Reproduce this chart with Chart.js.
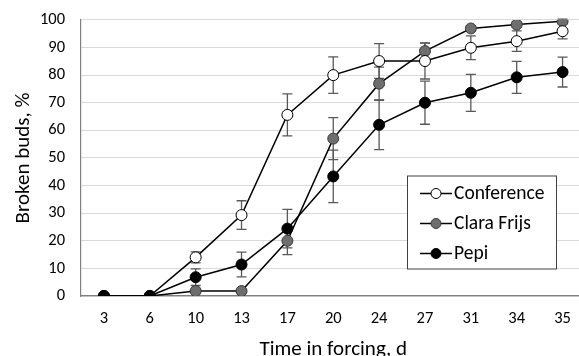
<!DOCTYPE html>
<html><head><meta charset="utf-8">
<script src="https://cdn.jsdelivr.net/npm/chart.js@4/dist/chart.umd.min.js"></script>
<style>
html,body{margin:0;padding:0;overflow:hidden;background:#fff;width:579px;height:356px}
#wrap{position:relative;width:592px;height:368px;margin-top:-6.5px}
</style>
</head><body><div id="wrap"><canvas id="c"></canvas></div>
<script>
const categories = ['3','6','10','13','17','20','24','27','31','34','35'];
const conference = [0,0,14,29.3,65.6,80,85.1,85.1,89.9,92.3,95.9];
const conferenceErr = [0,0,2,5.2,7.6,6.6,6.3,6.5,4.3,3.7,2.8];
const claraFrijs = [0,0,1.8,1.8,20,57,76.9,88.7,96.9,98.3,99.5];
const claraErr = [0,0,0.5,0.5,5,7.6,6,3,1,1,0.8];
const pepi = [0,0,6.8,11.4,24.4,43.3,62,70,73.6,79.2,81.1];
const pepiErr = [0,0,3,4.5,7,9.5,9,7.8,6.7,5.8,5.4];
const seriesNames = ['Conference','Clara Frijs','Pepi'];
const FONT = "Carlito, Lato, sans-serif";
const OFF = 6.5; // canvas is shifted up by this many px

const errorBars = {
  id:'errorBars',
  beforeDatasetsDraw(chart){
    const ctx = chart.ctx, y = chart.scales.y;
    ctx.save();
    ctx.strokeStyle = '#595959'; ctx.lineWidth = 1.3;
    chart.data.datasets.forEach((ds,di)=>{
      const meta = chart.getDatasetMeta(di);
      ds.errors.forEach((e,i)=>{
        if(!e) return;
        const x = meta.data[i].x;
        const t = y.getPixelForValue(ds.data[i]+e), b = y.getPixelForValue(ds.data[i]-e);
        ctx.beginPath();
        ctx.moveTo(x,t); ctx.lineTo(x,b);
        ctx.moveTo(x-5,t); ctx.lineTo(x+5,t);
        ctx.moveTo(x-5,b); ctx.lineTo(x+5,b);
        ctx.stroke();
      });
    });
    ctx.restore();
  }
};

const boxLegend = {
  id:'boxLegend',
  afterDraw(chart){
    const ctx = chart.ctx;
    const L=407.5, T=175.5+OFF, W=149, H=93;
    ctx.save();
    ctx.fillStyle='#fff'; ctx.fillRect(L,T,W,H);
    ctx.strokeStyle='#404040'; ctx.lineWidth=1; ctx.strokeRect(L,T,W,H);
    ctx.font = "19.5px " + FONT; ctx.textBaseline='middle'; ctx.fillStyle='#000';
    chart.data.datasets.forEach((ds,i)=>{
      const yy = 193 + OFF + i*30;
      ctx.strokeStyle='#000'; ctx.lineWidth=1.5;
      ctx.beginPath(); ctx.moveTo(420,yy); ctx.lineTo(452,yy); ctx.stroke();
      ctx.beginPath(); ctx.arc(436,yy,5,0,Math.PI*2);
      ctx.fillStyle=ds.pointBackgroundColor; ctx.fill();
      ctx.strokeStyle=ds.pointBorderColor; ctx.lineWidth=1; ctx.stroke();
      ctx.fillStyle='#000'; ctx.fillText(ds.label,454,yy+1);
    });
    ctx.restore();
  }
};

function ds(label,data,errors,fill,border,order){
  return {label,data,errors,borderColor:'#000',borderWidth:1.5,
    pointBackgroundColor:fill,pointBorderColor:border,pointBorderWidth:1,
    pointRadius:5.5,pointHoverRadius:5.5,tension:0,order};
}

new Chart(document.getElementById('c'),{
  type:'line',
  data:{labels:categories,datasets:[
    ds(seriesNames[0],conference,conferenceErr,'#ffffff','#000000',1),
    ds(seriesNames[1],claraFrijs,claraErr,'#6e6e6e','#3a3a3a',2),
    ds(seriesNames[2],pepi,pepiErr,'#000000','#000000',0)
  ]},
  options:{
    responsive:true,maintainAspectRatio:false,animation:false,
    layout:{padding:{top:1,left:0,right:0,bottom:0}},
    plugins:{legend:{display:false},tooltip:{enabled:false}},
    scales:{
      x:{offset:true,
        grid:{display:false,drawTicks:false},
        border:{color:'#808080',width:1.2},
        ticks:{color:'#000',font:{family:FONT,size:16.5},padding:13,maxRotation:0},
        title:{display:true,text:'Time in forcing, d',color:'#000',font:{family:FONT,size:21},padding:{top:0,bottom:0}},
        afterFit(s){s.height=66;}
      },
      y:{min:0,max:100,
        grid:{color:'#d9d9d9',drawTicks:false,lineWidth:1},
        border:{color:'#808080',width:1.2},
        ticks:{stepSize:10,color:'#000',font:{family:FONT,size:16.5},padding:16},
        title:{display:true,text:'Broken buds, %',color:'#000',font:{family:FONT,size:21},padding:{top:11,bottom:0}},
        afterFit(s){s.width=81;}
      }
    }
  },
  plugins:[errorBars,boxLegend]
});
</script>
</body></html>
